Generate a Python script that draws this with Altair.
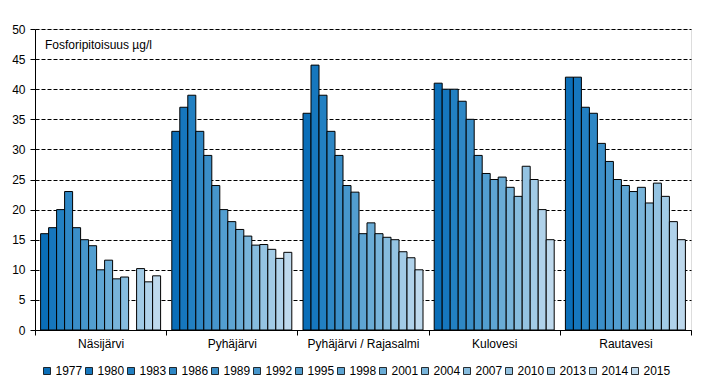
import altair as alt
import pandas as pd

lakes = ["Näsijärvi", "Pyhäjärvi", "Pyhäjärvi / Rajasalmi", "Kulovesi", "Rautavesi"]
years = ["1977", "1980", "1983", "1986", "1989", "1992", "1995", "1998",
         "2001", "2004", "2007", "2010", "2013", "2014", "2015"]

nasijarvi = [16, 17, 20, 23, 17, 15, 14, 10, 11.6, 8.5, 8.8, None, 10.2, 8, 9]
pyhajarvi = [33, 37, 39, 33, 29, 24, 20, 18, 16.7, 15.6, 14.1, 14.2, 13.4, 11.9, 12.9]
rajasalmi = [36, 44, 39, 33, 29, 24, 22.9, 16, 17.8, 16, 15.4, 15, 13, 12, 10]
kulovesi = [41, 40, 40, 38, 35, 29, 26, 25, 25.4, 23.7, 22.2, 27.2, 25, 20, 15]
rautavesi = [42, 42, 37, 36, 31, 28, 25, 24, 23, 23.7, 21.1, 24.4, 22.2, 18, 15]

colors = ["#0a6eb8", "#1677be", "#2280c2", "#2e87c5", "#3a8ec8", "#4696cc",
          "#529ed0", "#5ea5d3", "#6aacd6", "#78b4da", "#86bcde", "#94c3e2",
          "#a2cbe6", "#b0d2ea", "#bed9ed"]

ylabel = "Fosforipitoisuus µg/l"
FONT = "Liberation Sans"

rows = []
for lake, vals in zip(lakes, [nasijarvi, pyhajarvi, rajasalmi, kulovesi, rautavesi]):
    for yr, v in zip(years, vals):
        if v is not None:
            rows.append({"lake": lake, "year": yr, "value": v})
df = pd.DataFrame(rows)

bars = alt.Chart(df).mark_bar(stroke="black", strokeWidth=1).encode(
    x=alt.X("lake:N", sort=lakes,
            scale=alt.Scale(domain=lakes, paddingInner=0, paddingOuter=0),
            axis=alt.Axis(title=None, labelAngle=0, tickBand="extent", tickSize=5,
                          tickColor="black", domainColor="black", labelFontSize=12,
                          labelColor="black", labelPadding=3, grid=False,
                          labelFont=FONT)),
    xOffset=alt.XOffset("year:N", sort=years,
                        scale=alt.Scale(domain=years, paddingInner=0, paddingOuter=0.7)),
    y=alt.Y("value:Q", scale=alt.Scale(domain=[0, 50], nice=False),
            axis=alt.Axis(title=None, values=list(range(0, 51, 5)), tickSize=5,
                          tickColor="black", domainColor="black", labelFontSize=12,
                          labelColor="black", labelPadding=5, grid=True,
                          gridColor="black", gridDash=[4, 2], gridWidth=1,
                          labelFont=FONT)),
    color=alt.Color("year:N", sort=years,
                    scale=alt.Scale(domain=years, range=colors),
                    legend=alt.Legend(title=None, orient="none", legendX=6, legendY=336,
                                      direction="horizontal", columns=15,
                                      symbolType="square", symbolSize=49,
                                      symbolStrokeColor="black", symbolStrokeWidth=0.8,
                                      labelFontSize=12, labelColor="black",
                                      labelFont=FONT, labelOffset=2.5,
                                      columnPadding=0, padding=0)),
)

label = alt.Chart(pd.DataFrame({"t": [ylabel]})).mark_text(
    align="left", baseline="middle", fontSize=12, font=FONT, color="black"
).encode(x=alt.value(10), y=alt.value(16), text="t:N")

chart = alt.layer(bars, label).properties(
    width=656, height=301,
    autosize=alt.AutoSizeParams(type="none"),
    padding={"left": 27, "top": 21, "right": 5, "bottom": 50},
).configure_view(stroke="black", strokeWidth=1).configure(font=FONT)

chart.save("out.html", embed_options={"renderer": "svg", "actions": False})
